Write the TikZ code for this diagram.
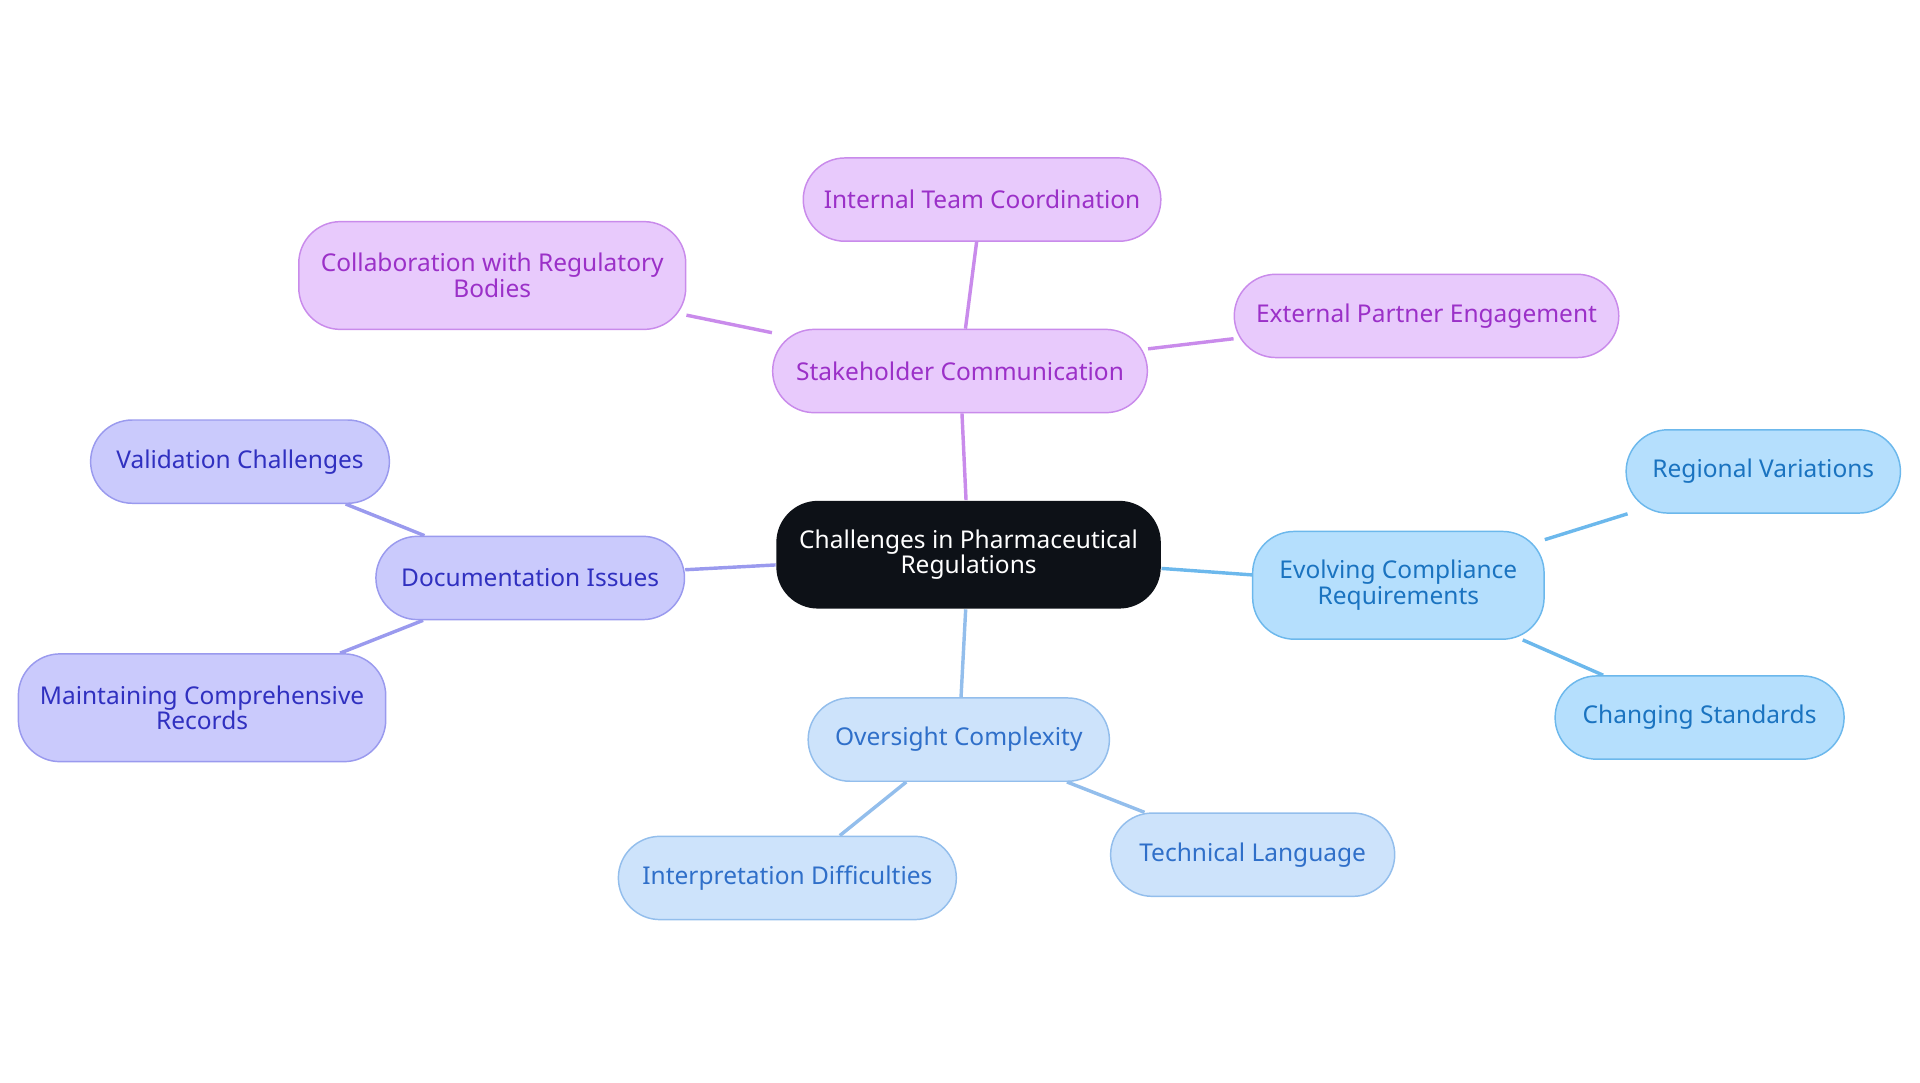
\documentclass[tikz,border=0pt]{standalone}
\usepackage{fontspec}
\setmainfont{Noto Sans}
\usetikzlibrary{backgrounds}
\definecolor{rootfill}{HTML}{0D1117}
\definecolor{pfill}{HTML}{E8CAFC}\definecolor{pline}{HTML}{C98BEB}\definecolor{ptext}{HTML}{9B30C8}
\definecolor{vfill}{HTML}{CACAFC}\definecolor{vline}{HTML}{9A9AEE}\definecolor{vtext}{HTML}{3030C0}
\definecolor{bfill}{HTML}{B5DFFD}\definecolor{bline}{HTML}{6CB8EC}\definecolor{btext}{HTML}{1A73C0}
\definecolor{lfill}{HTML}{CDE3FB}\definecolor{lline}{HTML}{93BEEC}\definecolor{ltext}{HTML}{2F6FC9}
\tikzset{
  box/.style={rounded corners=17pt, align=center, font=\fontsize{10}{10.5}\selectfont, inner sep=0pt, line width=0.6pt},
  rootbox/.style={box, fill=rootfill, text=white, minimum width=157pt, minimum height=44pt},
  pbox/.style={box, fill=pfill, draw=pline, text=ptext},
  vbox/.style={box, fill=vfill, draw=vline, text=vtext},
  bbox/.style={box, fill=bfill, draw=bline, text=btext},
  lbox/.style={box, fill=lfill, draw=lline, text=ltext},
  link/.style={line width=1.4pt}
}
\begin{document}
\begin{tikzpicture}[x=0.5pt,y=-0.5pt]
\useasboundingbox (0,0) rectangle (1568,884);
% root
\node[rootbox] (root) at (791,453) {Challenges in Pharmaceutical\\Regulations};
% stakeholder branch
\node[pbox, minimum width=153pt, minimum height=34pt] (stake) at (784,303) {Stakeholder Communication};
\node[pbox, minimum width=146pt, minimum height=34pt] (team) at (802,163) {Internal Team Coordination};
\node[pbox, minimum width=158pt, minimum height=44pt] (collab) at (402,225) {Collaboration with Regulatory\\Bodies};
\node[pbox, minimum width=157pt, minimum height=34pt] (partner) at (1165,258) {External Partner Engagement};
% documentation branch
\node[vbox, minimum width=126pt, minimum height=34pt] (doc) at (433,472) {Documentation Issues};
\node[vbox, minimum width=122pt, minimum height=34pt] (valid) at (196,377) {Validation Challenges};
\node[vbox, minimum width=150pt, minimum height=44pt] (records) at (165,578) {Maintaining Comprehensive\\Records};
% compliance branch
\node[bbox, minimum width=119pt, minimum height=44pt] (comp) at (1142,478) {Evolving Compliance\\Requirements};
\node[bbox, minimum width=112pt, minimum height=34pt] (region) at (1440,385) {Regional Variations};
\node[bbox, minimum width=118pt, minimum height=34pt] (change) at (1388,586) {Changing Standards};
% oversight branch
\node[lbox, minimum width=123pt, minimum height=34pt] (over) at (783,604) {Oversight Complexity};
\node[lbox, minimum width=138pt, minimum height=34pt] (interp) at (643,717) {Interpretation Difficulties};
\node[lbox, minimum width=116pt, minimum height=34pt] (tech) at (1023,698) {Technical Language};
% links
\begin{scope}[on background layer]
\draw[link, pline] (root) -- (stake);
\draw[link, pline] (stake) -- (team);
\draw[link, pline] (stake) -- (collab);
\draw[link, pline] (stake) -- (partner);
\draw[link, vline] (root) -- (doc);
\draw[link, vline] (doc) -- (valid);
\draw[link, vline] (doc) -- (records);
\draw[link, bline] (root) -- (comp);
\draw[link, bline] (comp) -- (region);
\draw[link, bline] (comp) -- (change);
\draw[link, lline] (root) -- (over);
\draw[link, lline] (over) -- (interp);
\draw[link, lline] (over) -- (tech);
\end{scope}
\end{tikzpicture}
\end{document}
